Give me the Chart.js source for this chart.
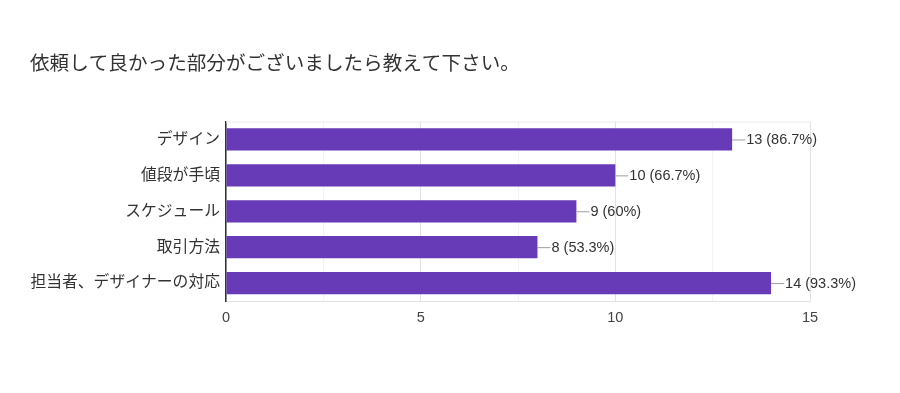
<!DOCTYPE html>
<html>
<head>
<meta charset="utf-8">
<script src="https://cdn.jsdelivr.net/npm/chart.js@4"></script>
<style>
  html, body { margin: 0; padding: 0; background: #fff; }
  #wrap { width: 900px; height: 393px; }
</style>
</head>
<body>
<div id="wrap"><canvas id="answerChart" width="900" height="393"></canvas></div>
<script>
const titleText = '依頼して良かった部分がございましたら教えて下さい。';
const categories = ['デザイン', '値段が手頃', 'スケジュール', '取引方法', '担当者、デザイナーの対応'];
const counts = [13, 10, 9, 8, 14];
const percents = ['86.7%', '66.7%', '60%', '53.3%', '93.3%'];
const xMax = 15;

const jpFont = "'Liberation Sans', 'Noto Sans CJK JP', sans-serif";

// value label with small leader line, like google forms
const valueLabels = {
  id: 'valueLabels',
  afterDatasetsDraw(chart) {
    const c = chart.ctx;
    const meta = chart.getDatasetMeta(0);
    c.save();
    c.font = "14.5px 'Liberation Sans', sans-serif";
    c.textBaseline = 'middle';
    meta.data.forEach((bar, i) => {
      c.strokeStyle = '#9e9e9e';
      c.lineWidth = 1;
      c.beginPath();
      c.moveTo(bar.x, bar.y + 0.5);
      c.lineTo(bar.x + 13, bar.y + 0.5);
      c.stroke();
      c.fillStyle = '#333';
      c.fillText(counts[i] + ' (' + percents[i] + ')', bar.x + 14, bar.y + 1);
    });
    c.restore();
  }
};

const topBorder = {
  id: 'topBorder',
  beforeDatasetsDraw(chart) {
    const a = chart.chartArea;
    const c = chart.ctx;
    c.save();
    c.strokeStyle = '#ececec';
    c.lineWidth = 1;
    c.beginPath();
    c.moveTo(a.left, a.top + 0.5);
    c.lineTo(a.right, a.top + 0.5);
    c.stroke();
    c.restore();
  }
};

const ctx = document.getElementById('answerChart').getContext('2d');

const answerChart = new Chart(ctx, {
  type: 'bar',
  data: {
    labels: categories,
    datasets: [{
      data: counts,
      backgroundColor: '#673ab7',
      borderWidth: 0,
      barPercentage: 0.62,
      categoryPercentage: 1.0,
    }],
  },
  options: {
    indexAxis: 'y',
    responsive: false,
    animation: false,
    layout: { padding: { left: 30, right: 90, top: 0, bottom: 0 } },
    plugins: {
      legend: { display: false },
      tooltip: { enabled: false },
      title: {
        display: true,
        text: titleText,
        align: 'start',
        color: '#333',
        font: { family: "'Noto Sans CJK JP', sans-serif", size: 19.6, weight: 'normal' },
        padding: { top: 51, bottom: 47 },
      },
    },
    scales: {
      x: {
        min: 0,
        max: xMax,
        ticks: {
          stepSize: 2.5,
          autoSkip: false,
          maxRotation: 0,
          padding: 8,
          color: '#444',
          font: { family: "'Liberation Sans', sans-serif", size: 14.5 },
          callback: (v) => (v % 5 === 0 ? v : ''),
        },
        grid: {
          drawTicks: false,
          color: (c) => (c.tick && c.tick.value % 5 === 0 ? '#e2e2e2' : '#f3f3f3'),
        },
        border: { display: true, color: '#e2e2e2' },
        afterFit: (s) => { s.height = 92; },
      },
      y: {
        ticks: {
          padding: 6,
          color: '#333',
          font: { family: jpFont, size: 15.8 },
        },
        grid: { display: false, drawTicks: false },
        border: { display: true, color: '#333', width: 1.5 },
        afterFit: (s) => { s.width = 196; },
      },
    },
  },
  plugins: [valueLabels, topBorder],
});
</script>
</body>
</html>
